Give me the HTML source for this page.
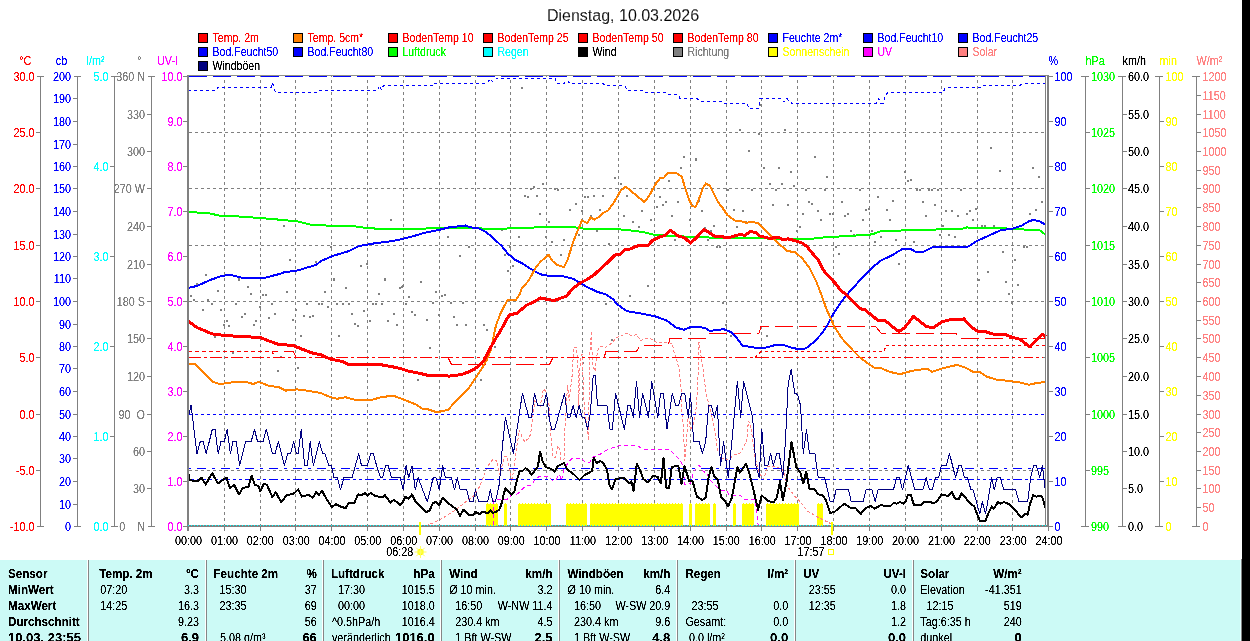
<!DOCTYPE html>
<html><head><meta charset="utf-8"><title>Wetter</title>
<style>html,body{margin:0;padding:0;background:#fff;}body{width:1250px;height:641px;overflow:hidden;font-family:"Liberation Sans",sans-serif;}svg{display:block;}text{font-family:"Liberation Sans",sans-serif;}</style></head><body>
<svg width="1250" height="641" viewBox="0 0 1250 641" font-family="Liberation Sans, sans-serif" shape-rendering="crispEdges">
<rect x="0" y="0" width="1250" height="641" fill="#fff" />
<rect x="1242" y="0" width="8" height="641" fill="#000" />
<rect x="0" y="560" width="1242" height="81" fill="#ccfaf6" />
<line x1="1240.5" y1="560" x2="1240.5" y2="641" stroke="#e4ffff" stroke-width="1" />
<line x1="1241.5" y1="559" x2="1241.5" y2="641" stroke="#868686" stroke-width="1" />
<rect x="198" y="33" width="10" height="10" fill="#000" />
<rect x="199" y="34" width="8" height="8" fill="#f00" />
<rect x="293" y="33" width="10" height="10" fill="#000" />
<rect x="294" y="34" width="8" height="8" fill="#ff8000" />
<rect x="388" y="33" width="10" height="10" fill="#000" />
<rect x="389" y="34" width="8" height="8" fill="#f00" />
<rect x="483" y="33" width="10" height="10" fill="#000" />
<rect x="484" y="34" width="8" height="8" fill="#f00" />
<rect x="578" y="33" width="10" height="10" fill="#000" />
<rect x="579" y="34" width="8" height="8" fill="#f00" />
<rect x="673" y="33" width="10" height="10" fill="#000" />
<rect x="674" y="34" width="8" height="8" fill="#f00" />
<rect x="768" y="33" width="10" height="10" fill="#000" />
<rect x="769" y="34" width="8" height="8" fill="#00f" />
<rect x="863" y="33" width="10" height="10" fill="#000" />
<rect x="864" y="34" width="8" height="8" fill="#00f" />
<rect x="958" y="33" width="10" height="10" fill="#000" />
<rect x="959" y="34" width="8" height="8" fill="#00f" />
<rect x="198" y="47" width="10" height="10" fill="#000" />
<rect x="199" y="48" width="8" height="8" fill="#00f" />
<rect x="293" y="47" width="10" height="10" fill="#000" />
<rect x="294" y="48" width="8" height="8" fill="#00f" />
<rect x="388" y="47" width="10" height="10" fill="#000" />
<rect x="389" y="48" width="8" height="8" fill="#0f0" />
<rect x="483" y="47" width="10" height="10" fill="#000" />
<rect x="484" y="48" width="8" height="8" fill="#0ff" />
<rect x="578" y="47" width="10" height="10" fill="#000" />
<rect x="579" y="48" width="8" height="8" fill="#000" />
<rect x="673" y="47" width="10" height="10" fill="#000" />
<rect x="674" y="48" width="8" height="8" fill="#808080" />
<rect x="768" y="47" width="10" height="10" fill="#000" />
<rect x="769" y="48" width="8" height="8" fill="#ff0" />
<rect x="863" y="47" width="10" height="10" fill="#000" />
<rect x="864" y="48" width="8" height="8" fill="#f0f" />
<rect x="958" y="47" width="10" height="10" fill="#000" />
<rect x="959" y="48" width="8" height="8" fill="#ff8080" />
<rect x="198" y="61" width="10" height="10" fill="#000" />
<rect x="199" y="62" width="8" height="8" fill="#000080" />
<line x1="224.5" y1="76" x2="224.5" y2="526" stroke="#808080" stroke-width="1" stroke-dasharray="3 3" stroke-dashoffset="2"/>
<line x1="260.5" y1="76" x2="260.5" y2="526" stroke="#808080" stroke-width="1" stroke-dasharray="3 3" stroke-dashoffset="2"/>
<line x1="295.5" y1="76" x2="295.5" y2="526" stroke="#808080" stroke-width="1" stroke-dasharray="3 3" stroke-dashoffset="2"/>
<line x1="331.5" y1="76" x2="331.5" y2="526" stroke="#808080" stroke-width="1" stroke-dasharray="3 3" stroke-dashoffset="2"/>
<line x1="367.5" y1="76" x2="367.5" y2="526" stroke="#808080" stroke-width="1" stroke-dasharray="3 3" stroke-dashoffset="2"/>
<line x1="403.5" y1="76" x2="403.5" y2="526" stroke="#808080" stroke-width="1" stroke-dasharray="3 3" stroke-dashoffset="2"/>
<line x1="439.5" y1="76" x2="439.5" y2="526" stroke="#808080" stroke-width="1" stroke-dasharray="3 3" stroke-dashoffset="2"/>
<line x1="475.5" y1="76" x2="475.5" y2="526" stroke="#808080" stroke-width="1" stroke-dasharray="3 3" stroke-dashoffset="2"/>
<line x1="510.5" y1="76" x2="510.5" y2="526" stroke="#808080" stroke-width="1" stroke-dasharray="3 3" stroke-dashoffset="2"/>
<line x1="546.5" y1="76" x2="546.5" y2="526" stroke="#808080" stroke-width="1" stroke-dasharray="3 3" stroke-dashoffset="2"/>
<line x1="582.5" y1="76" x2="582.5" y2="526" stroke="#808080" stroke-width="1" stroke-dasharray="3 3" stroke-dashoffset="2"/>
<line x1="618.5" y1="76" x2="618.5" y2="526" stroke="#808080" stroke-width="1" stroke-dasharray="3 3" stroke-dashoffset="2"/>
<line x1="654.5" y1="76" x2="654.5" y2="526" stroke="#808080" stroke-width="1" stroke-dasharray="3 3" stroke-dashoffset="2"/>
<line x1="690.5" y1="76" x2="690.5" y2="526" stroke="#808080" stroke-width="1" stroke-dasharray="3 3" stroke-dashoffset="2"/>
<line x1="726.5" y1="76" x2="726.5" y2="526" stroke="#808080" stroke-width="1" stroke-dasharray="3 3" stroke-dashoffset="2"/>
<line x1="761.5" y1="76" x2="761.5" y2="526" stroke="#808080" stroke-width="1" stroke-dasharray="3 3" stroke-dashoffset="2"/>
<line x1="797.5" y1="76" x2="797.5" y2="526" stroke="#808080" stroke-width="1" stroke-dasharray="3 3" stroke-dashoffset="2"/>
<line x1="833.5" y1="76" x2="833.5" y2="526" stroke="#808080" stroke-width="1" stroke-dasharray="3 3" stroke-dashoffset="2"/>
<line x1="869.5" y1="76" x2="869.5" y2="526" stroke="#808080" stroke-width="1" stroke-dasharray="3 3" stroke-dashoffset="2"/>
<line x1="905.5" y1="76" x2="905.5" y2="526" stroke="#808080" stroke-width="1" stroke-dasharray="3 3" stroke-dashoffset="2"/>
<line x1="941.5" y1="76" x2="941.5" y2="526" stroke="#808080" stroke-width="1" stroke-dasharray="3 3" stroke-dashoffset="2"/>
<line x1="977.5" y1="76" x2="977.5" y2="526" stroke="#808080" stroke-width="1" stroke-dasharray="3 3" stroke-dashoffset="2"/>
<line x1="1012.5" y1="76" x2="1012.5" y2="526" stroke="#808080" stroke-width="1" stroke-dasharray="3 3" stroke-dashoffset="2"/>
<line x1="189" y1="132.5" x2="1046" y2="132.5" stroke="#808080" stroke-width="1" stroke-dasharray="3 3"/>
<line x1="189" y1="188.5" x2="1046" y2="188.5" stroke="#808080" stroke-width="1" stroke-dasharray="3 3"/>
<line x1="189" y1="245.5" x2="1046" y2="245.5" stroke="#808080" stroke-width="1" stroke-dasharray="3 3"/>
<line x1="189" y1="301.5" x2="1046" y2="301.5" stroke="#808080" stroke-width="1" stroke-dasharray="3 3"/>
<line x1="1043" y1="357.5" x2="1046" y2="357.5" stroke="#808080" stroke-width="1" />
<line x1="189" y1="414.5" x2="1046" y2="414.5" stroke="#808080" stroke-width="1" stroke-dasharray="3 3"/>
<line x1="189" y1="470.5" x2="1046" y2="470.5" stroke="#808080" stroke-width="1" stroke-dasharray="3 3"/>
<path d="M521 87h2v2h-2zM739 129h2v2h-2zM758 133h2v2h-2zM784 129h2v2h-2zM748 150h2v2h-2zM683 156h2v2h-2zM695 158h2v2h-2zM814 156h2v2h-2zM759 104h2v2h-2zM990 147h2v2h-2zM283 225h2v2h-2zM390 219h2v2h-2zM289 259h2v2h-2zM315 261h2v2h-2zM360 265h2v2h-2zM366 263h2v2h-2zM205 274h2v2h-2zM330 246h2v2h-2zM238 278h2v2h-2zM333 278h2v2h-2zM384 278h2v2h-2zM238 279h2v2h-2zM196 283h2v2h-2zM247 286h2v2h-2zM217 290h2v2h-2zM250 293h2v2h-2zM262 294h2v2h-2zM265 294h2v2h-2zM286 291h2v2h-2zM190 295h2v2h-2zM193 299h2v2h-2zM207 299h2v2h-2zM211 303h2v2h-2zM235 303h2v2h-2zM271 303h2v2h-2zM202 309h2v2h-2zM220 309h2v2h-2zM259 306h2v2h-2zM295 309h2v2h-2zM244 313h2v2h-2zM241 316h2v2h-2zM274 313h2v2h-2zM268 317h2v2h-2zM292 319h2v2h-2zM226 320h2v2h-2zM255 320h2v2h-2zM223 324h2v2h-2zM228 325h2v2h-2zM253 324h2v2h-2zM214 336h2v2h-2zM232 352h2v2h-2zM280 356h2v2h-2zM277 370h2v2h-2zM297 367h2v2h-2zM306 303h2v2h-2zM318 303h2v2h-2zM321 303h2v2h-2zM327 306h2v2h-2zM324 291h2v2h-2zM333 279h2v2h-2zM345 287h2v2h-2zM336 303h2v2h-2zM342 303h2v2h-2zM348 303h2v2h-2zM351 313h2v2h-2zM363 310h2v2h-2zM303 315h2v2h-2zM309 316h2v2h-2zM312 315h2v2h-2zM300 335h2v2h-2zM338 335h2v2h-2zM354 323h2v2h-2zM357 325h2v2h-2zM369 320h2v2h-2zM372 303h2v2h-2zM375 303h2v2h-2zM381 303h2v2h-2zM378 293h2v2h-2zM384 279h2v2h-2zM399 287h2v2h-2zM402 285h2v2h-2zM393 313h2v2h-2zM387 320h2v2h-2zM396 324h2v2h-2zM447 236h2v2h-2zM468 246h2v2h-2zM459 255h2v2h-2zM420 281h2v2h-2zM401 286h2v2h-2zM408 296h2v2h-2zM435 291h2v2h-2zM441 295h2v2h-2zM444 294h2v2h-2zM432 302h2v2h-2zM450 302h2v2h-2zM462 302h2v2h-2zM501 229h2v2h-2zM518 236h2v2h-2zM509 246h2v2h-2zM504 254h2v2h-2zM512 265h2v2h-2zM507 270h2v2h-2zM524 195h2v2h-2zM527 196h2v2h-2zM530 188h2v2h-2zM533 186h2v2h-2zM536 195h2v2h-2zM542 183h2v2h-2zM539 213h2v2h-2zM548 221h2v2h-2zM545 236h2v2h-2zM551 241h2v2h-2zM560 254h2v2h-2zM563 239h2v2h-2zM554 188h2v2h-2zM557 189h2v2h-2zM569 209h2v2h-2zM575 203h2v2h-2zM581 210h2v2h-2zM578 234h2v2h-2zM584 196h2v2h-2zM587 196h2v2h-2zM593 195h2v2h-2zM602 195h2v2h-2zM599 209h2v2h-2zM590 215h2v2h-2zM596 230h2v2h-2zM608 243h2v2h-2zM614 177h2v2h-2zM405 303h2v2h-2zM411 311h2v2h-2zM414 314h2v2h-2zM438 314h2v2h-2zM426 319h2v2h-2zM453 316h2v2h-2zM456 324h2v2h-2zM465 324h2v2h-2zM483 324h2v2h-2zM486 329h2v2h-2zM429 347h2v2h-2zM494 346h2v2h-2zM417 379h2v2h-2zM480 379h2v2h-2zM489 414h2v2h-2zM605 303h2v2h-2zM611 339h2v2h-2zM582 362h2v2h-2zM680 167h2v2h-2zM695 159h2v2h-2zM668 180h2v2h-2zM620 183h2v2h-2zM626 195h2v2h-2zM659 196h2v2h-2zM665 201h2v2h-2zM662 204h2v2h-2zM656 206h2v2h-2zM641 210h2v2h-2zM623 215h2v2h-2zM632 221h2v2h-2zM650 219h2v2h-2zM638 226h2v2h-2zM671 215h2v2h-2zM677 201h2v2h-2zM698 200h2v2h-2zM691 204h2v2h-2zM701 210h2v2h-2zM689 219h2v2h-2zM704 227h2v2h-2zM710 230h2v2h-2zM713 225h2v2h-2zM674 239h2v2h-2zM707 239h2v2h-2zM716 246h2v2h-2zM719 246h2v2h-2zM727 189h2v2h-2zM733 209h2v2h-2zM742 210h2v2h-2zM736 226h2v2h-2zM745 221h2v2h-2zM751 189h2v2h-2zM763 167h2v2h-2zM778 167h2v2h-2zM790 171h2v2h-2zM769 183h2v2h-2zM781 183h2v2h-2zM793 185h2v2h-2zM775 189h2v2h-2zM772 204h2v2h-2zM787 204h2v2h-2zM796 230h2v2h-2zM799 226h2v2h-2zM802 213h2v2h-2zM805 189h2v2h-2zM808 201h2v2h-2zM811 203h2v2h-2zM817 210h2v2h-2zM820 219h2v2h-2zM824 189h2v2h-2zM826 176h2v2h-2zM829 213h2v2h-2zM832 213h2v2h-2zM647 285h2v2h-2zM629 295h2v2h-2zM722 302h2v2h-2zM730 335h2v2h-2zM766 335h2v2h-2zM725 324h2v2h-2zM904 171h2v2h-2zM907 180h2v2h-2zM910 179h2v2h-2zM999 170h2v2h-2zM1032 167h2v2h-2zM1038 176h2v2h-2zM1041 201h2v2h-2zM859 189h2v2h-2zM916 189h2v2h-2zM919 189h2v2h-2zM928 189h2v2h-2zM931 189h2v2h-2zM937 189h2v2h-2zM960 189h2v2h-2zM877 196h2v2h-2zM841 201h2v2h-2zM892 200h2v2h-2zM922 201h2v2h-2zM934 204h2v2h-2zM865 209h2v2h-2zM868 208h2v2h-2zM886 209h2v2h-2zM945 210h2v2h-2zM951 210h2v2h-2zM969 210h2v2h-2zM975 208h2v2h-2zM844 215h2v2h-2zM847 213h2v2h-2zM925 215h2v2h-2zM957 215h2v2h-2zM966 213h2v2h-2zM862 219h2v2h-2zM889 219h2v2h-2zM972 219h2v2h-2zM1029 213h2v2h-2zM1035 209h2v2h-2zM942 225h2v2h-2zM981 225h2v2h-2zM984 225h2v2h-2zM993 225h2v2h-2zM850 230h2v2h-2zM871 230h2v2h-2zM883 230h2v2h-2zM853 234h2v2h-2zM856 234h2v2h-2zM880 236h2v2h-2zM939 234h2v2h-2zM948 234h2v2h-2zM954 236h2v2h-2zM895 239h2v2h-2zM874 241h2v2h-2zM913 241h2v2h-2zM835 246h2v2h-2zM1023 246h2v2h-2zM1026 246h2v2h-2zM838 253h2v2h-2zM1002 251h2v2h-2zM1014 259h2v2h-2zM898 263h2v2h-2zM987 271h2v2h-2zM978 279h2v2h-2zM1005 281h2v2h-2zM1017 284h2v2h-2zM1008 293h2v2h-2zM1011 302h2v2h-2zM1008 293h2v2h-2z" fill="#808080"/>
<rect x="486" y="504" width="12" height="22" fill="#ff0"/>
<line x1="487" y1="503.5" x2="498" y2="503.5" stroke="#ff0" stroke-width="1" stroke-dasharray="1 2"/>
<rect x="504" y="504" width="3" height="22" fill="#ff0"/>
<line x1="505" y1="503.5" x2="507" y2="503.5" stroke="#ff0" stroke-width="1" stroke-dasharray="1 2"/>
<rect x="518" y="504" width="33" height="22" fill="#ff0"/>
<line x1="519" y1="503.5" x2="551" y2="503.5" stroke="#ff0" stroke-width="1" stroke-dasharray="1 2"/>
<rect x="566" y="504" width="21" height="22" fill="#ff0"/>
<line x1="567" y1="503.5" x2="587" y2="503.5" stroke="#ff0" stroke-width="1" stroke-dasharray="1 2"/>
<rect x="590" y="504" width="93" height="22" fill="#ff0"/>
<line x1="591" y1="503.5" x2="683" y2="503.5" stroke="#ff0" stroke-width="1" stroke-dasharray="1 2"/>
<rect x="689" y="504" width="3" height="22" fill="#ff0"/>
<line x1="690" y1="503.5" x2="692" y2="503.5" stroke="#ff0" stroke-width="1" stroke-dasharray="1 2"/>
<rect x="695" y="504" width="15" height="22" fill="#ff0"/>
<line x1="696" y1="503.5" x2="710" y2="503.5" stroke="#ff0" stroke-width="1" stroke-dasharray="1 2"/>
<rect x="713" y="504" width="3" height="22" fill="#ff0"/>
<line x1="714" y1="503.5" x2="716" y2="503.5" stroke="#ff0" stroke-width="1" stroke-dasharray="1 2"/>
<rect x="733" y="504" width="3" height="22" fill="#ff0"/>
<line x1="734" y1="503.5" x2="736" y2="503.5" stroke="#ff0" stroke-width="1" stroke-dasharray="1 2"/>
<rect x="742" y="504" width="12" height="22" fill="#ff0"/>
<line x1="743" y1="503.5" x2="754" y2="503.5" stroke="#ff0" stroke-width="1" stroke-dasharray="1 2"/>
<rect x="766" y="504" width="33" height="22" fill="#ff0"/>
<line x1="767" y1="503.5" x2="799" y2="503.5" stroke="#ff0" stroke-width="1" stroke-dasharray="1 2"/>
<rect x="817" y="504" width="6" height="22" fill="#ff0"/>
<line x1="818" y1="503.5" x2="823" y2="503.5" stroke="#ff0" stroke-width="1" stroke-dasharray="1 2"/>
<polyline points="426.0,526.0 440.4,519.5 454.6,510.8 465.5,502.0 474.3,495.5 480.0,486.0 483.4,476.6 487.7,466.3 492.9,459.5 496.3,460.3 498.0,468.0 499.7,474.9 502.3,464.6 504.9,456.0 507.4,457.7 510.0,471.5 511.7,481.7 513.4,471.5 516.9,445.7 519.5,430.3 522.0,437.2 524.6,441.4 528.0,438.9 530.6,434.6 532.3,420.0 534.9,400.6 540.0,407.5 543.5,388.6 546.0,392.0 549.0,405.0 551.2,440.6 552.9,456.0 555.5,457.7 558.0,445.7 559.8,449.2 560.6,459.5 564.0,459.5 564.9,430.0 567.5,385.2 569.2,400.6 572.6,371.5 573.5,347.4 576.1,347.4 577.8,357.7 578.6,405.8 580.3,357.7 582.1,354.3 584.6,416.0 587.2,426.0 588.4,440.6 589.0,400.0 589.8,354.3 591.5,331.1 592.3,362.9 594.9,371.5 597.5,350.9 600.1,346.6 605.2,347.4 610.4,344.0 617.2,337.2 620.1,336.3 627.0,332.9 632.2,336.3 636.4,334.6 640.7,340.6 645.0,338.9 649.3,338.0 656.2,342.3 668.2,342.3 672.5,344.0 674.2,352.6 676.7,359.5 679.3,369.7 681.0,388.6 681.9,414.3 682.7,416.8 684.9,460.5 688.2,416.8 690.5,430.0 693.9,422.9 696.5,405.8 698.2,371.5 699.0,342.3 700.8,354.3 702.5,364.6 704.2,380.0 706.8,397.2 709.3,405.8 712.8,420.0 716.2,440.0 717.5,450.2 722.0,458.0 728.0,460.0 733.9,454.9 740.9,452.6 746.7,440.9 748.4,421.0 750.3,423.3 752.6,438.5 754.9,457.3 759.6,473.7 763.6,479.1 767.9,466.0 776.7,467.1 783.2,470.4 787.6,486.8 794.2,495.5 800.7,502.0 807.3,510.8 816.0,516.3 824.7,520.6 833.5,525.0" fill="none" stroke="#ff8080" stroke-width="1" stroke-dasharray="3 2" stroke-linejoin="round" />
<polyline points="493.7,525.0 493.7,500.6 500.6,499.2 507.4,499.2 511.7,495.0 517.7,493.8 521.2,490.3 525.5,486.0 531.5,485.2 534.9,480.0 539.2,476.3 548.6,476.3 552.0,480.0 556.3,480.0 558.0,474.9 560.6,476.6 561.5,480.9 564.0,468.9 569.2,461.2 572.6,458.1 581.2,458.1 586.3,462.9 589.8,462.0 593.2,456.9 600.1,454.3 606.9,450.0 613.8,447.4 620.0,445.5 637.9,445.7 642.3,449.2 669.6,449.2 675.1,455.1 680.5,460.5 682.7,466.0 684.9,484.6 690.4,483.5 693.7,471.5 699.1,464.9 702.4,470.4 706.8,473.7 711.1,481.3 715.5,485.7 721.0,490.0 726.4,490.0 729.7,495.5 740.6,495.5 743.9,499.4 754.8,499.4 757.0,513.0 758.1,525.0" fill="none" stroke="#f0f" stroke-width="1" stroke-dasharray="4 3" stroke-linejoin="round" />
<line x1="188.5" y1="76.5" x2="1046" y2="76.5" stroke="#00f" stroke-width="1" stroke-dasharray="18 6"/>
<polyline points="188.3,90.5 217.0,90.5 218.0,87.5 271.0,87.5 272.5,83.0 274.0,87.5 275.5,92.5 318.0,92.5 320.0,90.5 378.0,90.5 379.5,85.5 381.5,90.0 383.5,85.5 432.0,85.5 433.0,83.5 487.0,83.5 490.0,79.0 493.0,82.0 496.0,79.0 500.0,78.0 555.0,78.0 557.0,83.5 564.0,83.5 567.0,80.0 570.0,83.5 603.0,83.5 605.0,85.5 625.0,85.5 627.0,90.5 643.0,90.5 645.0,92.5 666.0,92.5 668.0,94.5 678.0,94.5 680.0,98.5 697.0,98.5 700.0,101.5 722.0,101.5 724.0,103.5 747.0,103.5 749.0,108.5 758.5,108.5 760.0,98.5 781.0,98.5 784.0,102.0 787.0,98.5 789.0,101.0 792.0,103.5 876.0,103.5 878.5,98.5 881.0,103.5 883.0,103.5 885.0,96.0 888.0,92.5 943.0,92.5 945.0,88.5 947.0,87.5 982.0,87.5 984.0,85.5 1020.0,85.5 1022.0,83.5 1046.0,83.5" fill="none" stroke="#00f" stroke-width="1" stroke-dasharray="3 3" stroke-linejoin="round" />
<line x1="189" y1="414.5" x2="1046" y2="414.5" stroke="#00f" stroke-width="1" stroke-dasharray="3 3"/>
<line x1="189" y1="468.5" x2="1046" y2="468.5" stroke="#00f" stroke-width="1" stroke-dasharray="9 6 3 6" stroke-dashoffset="16"/>
<line x1="189" y1="479.5" x2="1046" y2="479.5" stroke="#00f" stroke-width="1" stroke-dasharray="9 3 3 3 3 3" stroke-dashoffset="16"/>
<line x1="189" y1="357.5" x2="760" y2="357.5" stroke="#f00" stroke-width="1" stroke-dasharray="12 3 3 3"/>
<line x1="760" y1="357.5" x2="1043" y2="357.5" stroke="#f00" stroke-width="1" stroke-dasharray="9 3 3 3 3 3"/>
<polyline points="188.3,351.5 271.0,351.5 273.5,354.0" fill="none" stroke="#f00" stroke-width="1" stroke-dasharray="4 3" stroke-linejoin="round" />
<polyline points="755.0,357.5 761.0,351.5 883.8,351.5 886.2,345.5 1045.0,345.5" fill="none" stroke="#f00" stroke-width="1" stroke-dasharray="3 3" stroke-linejoin="round" />
<polyline points="272.0,351.5 278.0,351.5" fill="none" stroke="#f00" stroke-width="1" stroke-linejoin="round" />
<polyline points="284.0,351.5 293.0,351.5 296.4,357.5" fill="none" stroke="#f00" stroke-width="1" stroke-linejoin="round" />
<polyline points="448.0,357.5 451.5,364.5 549.5,364.5 553.0,357.5" fill="none" stroke="#f00" stroke-width="1" stroke-dasharray="18 6" stroke-linejoin="round" />
<polyline points="604.0,357.5 606.0,351.5 636.4,351.5 639.9,345.5 666.5,345.5 668.5,343.5 670.0,338.5 705.9,338.5 708.5,333.5 758.9,333.5 761.0,326.5 875.6,326.5 881.5,333.5 956.4,333.5 958.7,338.5 1045.0,338.5" fill="none" stroke="#f00" stroke-width="1" stroke-dasharray="18 6" stroke-linejoin="round" />
<polyline points="188.3,417.4 191.0,405.3 197.0,453.6 200.3,441.5 203.0,441.5 206.2,453.6 212.3,429.4 215.0,429.4 218.2,453.6 221.0,441.5 224.3,441.5 227.2,429.4 230.4,453.6 233.0,441.5 236.3,441.5 239.6,465.6 245.7,441.5 251.2,441.5 254.5,429.4 257.5,441.5 263.2,441.5 266.3,429.4 272.4,453.6 275.2,453.6 278.3,441.5 284.4,465.6 287.7,453.6 290.5,453.6 293.6,441.5 296.4,453.6 298.2,453.6 301.2,429.4 304.7,465.6 307.4,465.6 310.2,441.5 313.3,465.6 319.4,441.5 322.6,453.6 324.8,453.6 328.8,465.6 331.4,465.6 334.0,477.7 337.3,477.7 340.6,489.8 343.8,477.7 352.1,477.7 358.7,453.6 361.5,465.6 367.4,465.6 370.7,453.6 373.3,453.6 376.6,465.6 380.5,477.7 382.7,477.7 385.6,465.6 388.2,465.6 391.5,477.7 400.2,477.7 403.3,489.8 406.1,465.6 408.7,477.7 412.0,465.6 415.3,489.8 418.1,477.7 427.3,501.9 433.2,477.7 436.0,477.7 439.3,489.8 442.6,465.6 445.4,477.7 451.3,477.7 454.6,489.8 457.2,477.7 460.1,489.8 466.6,489.8 469.9,501.9 473.2,501.9 475.4,489.8 478.7,501.9 487.7,501.9 490.3,489.8 492.9,501.9 495.4,501.9 499.4,483.8 502.3,447.5 505.4,417.4 513.4,453.6 522.4,393.2 528.9,417.4 531.5,417.4 534.5,393.2 537.5,405.3 543.5,405.3 546.6,393.2 549.1,417.4 551.7,429.4 554.6,429.4 564.6,393.2 567.5,417.4 570.0,417.4 573.1,405.3 576.1,417.4 579.1,405.3 582.1,417.4 584.6,417.4 587.5,429.4 590.3,413.7 593.2,375.7 595.3,375.7 597.5,405.3 606.9,405.3 610.0,429.4 612.4,429.4 615.5,393.2 624.4,429.4 627.9,405.3 630.2,405.3 633.3,417.4 636.5,381.2 639.6,417.4 642.6,393.2 648.5,417.4 651.7,381.2 657.8,417.4 660.6,393.2 663.4,393.2 667.0,429.4 672.3,393.2 675.8,405.3 678.7,405.3 681.7,393.2 684.7,393.2 688.3,417.4 690.4,393.2 693.7,441.5 699.1,441.5 702.4,453.6 705.7,441.5 708.6,405.3 711.4,405.3 714.5,417.4 717.3,405.3 720.5,465.6 723.6,441.5 728.2,477.7 731.9,441.5 737.4,381.2 740.7,417.4 743.6,381.2 749.5,405.3 752.6,417.4 755.9,465.6 759.2,477.7 761.8,429.4 764.7,465.6 767.9,465.6 770.6,453.6 773.4,465.6 776.7,453.6 779.3,453.6 782.8,477.7 785.4,441.5 788.2,383.6 791.2,369.1 794.7,393.2 797.5,394.4 800.5,405.3 803.3,453.6 806.5,429.4 809.5,453.6 814.9,453.6 818.2,477.7 824.7,477.7 830.2,501.9 833.3,501.9 836.1,489.8 848.6,489.8 851.2,501.9 863.2,501.9 866.0,489.8 872.0,489.8 875.2,501.9 878.0,489.8 893.4,489.8 896.6,477.7 899.5,477.7 902.5,489.8 908.2,465.6 914.8,489.8 922.9,489.8 926.1,477.7 929.4,489.8 932.2,489.8 935.5,477.7 938.6,477.7 941.4,465.6 946.2,465.6 949.5,453.6 955.6,477.7 958.9,465.6 961.5,465.6 964.4,477.7 967.6,477.7 970.9,489.8 973.1,489.8 979.7,513.9 982.3,501.9 985.6,513.9 991.7,477.7 994.3,489.8 997.1,477.7 1000.4,477.7 1003.7,489.8 1015.7,489.8 1019.0,501.9 1027.7,501.9 1030.6,477.7 1033.6,465.6 1036.5,465.6 1039.7,477.7 1042.4,465.6 1045.2,489.8" fill="none" stroke="#000080" stroke-width="1" stroke-linejoin="round" />
<polyline points="188.3,211.9 209.3,213.4 220.6,215.8 241.0,216.6 260.0,218.0 278.6,219.6 297.4,221.4 312.3,225.0 331.0,225.7 353.5,226.1 364.8,227.8 379.8,228.9 400.0,229.0 458.5,227.9 500.6,229.0 514.7,227.9 540.0,227.4 575.0,227.4 587.0,229.0 615.0,229.0 629.0,230.2 643.0,232.1 654.8,234.9 673.5,236.1 692.2,236.8 713.3,237.7 732.0,237.7 755.4,237.9 778.8,239.1 802.2,239.1 816.3,238.4 825.6,237.2 835.0,236.8 844.0,236.1 858.1,235.4 872.1,234.4 880.3,231.4 895.5,230.9 911.9,229.7 928.3,230.2 942.3,229.0 961.0,229.0 966.9,227.4 975.1,228.3 1003.2,228.3 1017.2,229.0 1026.6,229.7 1039.4,230.2 1045.3,234.4" fill="none" stroke="#0f0" stroke-width="2" stroke-linejoin="round" />
<polyline points="188.3,288.0 196.7,286.0 210.7,279.8 220.0,276.5 229.0,274.6 241.0,277.6 265.5,277.6 278.6,274.2 284.0,272.4 297.4,270.5 316.0,264.9 321.7,260.6 333.0,255.9 348.0,251.4 359.0,246.1 372.0,243.7 387.0,241.8 400.0,239.6 414.0,236.0 425.7,232.5 439.8,229.7 449.0,227.4 465.5,225.5 470.2,227.2 479.6,228.6 486.6,232.5 493.6,238.4 501.8,246.1 507.7,253.6 514.7,259.5 521.7,263.0 528.7,267.6 535.7,271.9 542.8,275.1 554.5,276.3 563.8,276.5 573.2,278.9 580.2,282.9 587.2,287.1 596.6,291.5 606.0,294.6 613.0,299.2 617.0,304.0 626.7,311.1 640.7,313.4 654.8,316.2 666.5,320.4 675.8,327.4 684.0,329.8 689.9,327.4 695.7,326.7 705.1,327.9 709.8,331.0 718.0,329.8 723.8,329.3 730.8,332.1 736.7,338.0 742.5,345.5 750.7,346.9 760.1,348.5 767.1,347.3 775.3,345.0 783.5,345.0 790.5,347.3 797.5,349.0 805.7,348.5 813.9,342.0 820.9,334.5 826.8,326.3 831.5,316.9 835.5,310.5 844.0,298.1 853.4,287.5 862.8,277.0 872.1,267.6 881.5,260.2 890.8,256.0 902.5,248.9 910.7,248.9 915.4,251.7 923.6,251.7 933.0,247.1 968.1,246.6 977.4,240.7 991.5,234.4 1000.8,230.2 1012.5,228.6 1021.9,225.5 1028.9,221.3 1033.6,219.9 1039.4,221.3 1045.3,224.4" fill="none" stroke="#00f" stroke-width="2" stroke-linejoin="round" />
<polyline points="188.3,363.7 194.4,363.7 203.7,373.0 213.0,382.0 220.0,384.0 231.8,382.4 248.0,382.4 253.0,384.0 258.8,382.0 269.3,386.0 278.6,387.0 285.7,390.6 297.4,389.4 306.7,390.6 320.8,393.0 330.0,397.0 337.0,398.8 345.4,397.2 353.6,399.5 370.0,400.4 381.7,397.0 393.4,395.8 400.0,398.1 409.4,401.9 416.4,404.7 423.4,409.4 428.1,409.4 435.1,411.7 439.8,411.7 448.0,409.8 453.8,403.5 460.8,396.5 467.9,389.5 474.9,378.9 481.9,368.4 486.6,360.2 491.3,348.5 493.6,336.8 496.0,325.1 500.6,313.4 504.1,306.4 507.7,299.7 515.8,299.9 519.4,294.7 521.7,288.7 528.7,280.5 535.7,267.6 540.4,261.8 548.6,254.8 552.1,260.6 556.8,264.8 563.8,267.2 567.3,260.6 573.2,241.9 577.9,230.2 582.0,220.4 587.2,223.2 590.7,217.3 594.2,219.7 600.1,216.2 603.6,212.7 608.3,210.3 614.1,202.1 617.5,196.0 620.9,190.4 625.5,186.9 629.0,189.3 636.0,195.1 644.3,202.1 648.9,196.3 656.0,183.4 660.6,177.6 664.1,177.6 667.7,172.9 675.8,172.9 681.7,176.4 685.2,188.1 688.7,198.6 692.2,206.3 695.7,206.8 699.2,198.6 702.8,188.1 705.8,183.4 709.8,185.7 713.3,192.8 718.0,202.1 722.7,208.0 727.3,215.0 734.4,220.4 741.4,221.3 746.1,222.7 753.1,222.0 758.2,223.2 764.8,230.2 771.8,237.2 778.8,243.8 787.0,250.8 795.2,252.4 802.2,258.3 809.2,267.6 816.3,281.7 820.9,293.4 826.8,310.0 830.0,316.9 834.7,327.4 841.7,338.0 851.1,348.5 860.4,357.9 867.4,363.0 874.5,367.7 881.5,368.4 889.7,371.9 900.2,374.2 910.7,371.2 918.9,369.6 928.3,369.1 931.8,371.9 942.3,368.4 951.7,366.1 957.5,364.9 965.7,367.7 973.9,372.4 979.8,371.9 986.8,376.6 996.2,379.6 1007.9,380.8 1019.6,382.4 1028.9,384.8 1037.1,382.9 1045.3,382.0" fill="none" stroke="#ff8000" stroke-width="2" stroke-linejoin="round" />
<polyline points="188.3,321.0 196.7,327.4 206.0,331.3 212.0,333.9 224.8,335.5 243.5,336.7 260.0,337.4 267.0,340.2 278.6,344.4 292.7,345.4 302.0,349.1 312.5,353.1 320.8,354.7 330.0,359.0 341.8,361.3 348.8,364.8 367.5,364.4 379.0,364.4 391.0,366.5 400.0,368.4 409.4,371.4 418.7,373.1 428.1,375.4 439.8,375.4 449.1,376.1 460.8,374.7 470.2,371.4 477.2,367.2 484.2,360.2 490.1,348.5 496.0,338.0 501.8,328.6 506.5,319.3 510.0,314.6 517.0,313.4 526.4,305.2 533.4,302.2 540.4,297.9 547.4,299.4 554.5,300.5 561.5,297.8 566.2,296.3 573.2,288.2 580.2,282.9 587.2,279.4 594.2,274.7 601.3,268.1 608.3,261.8 615.3,254.8 619.7,254.8 625.5,249.4 631.4,248.9 636.0,246.1 647.8,245.4 652.4,240.7 659.5,236.8 665.3,235.4 670.0,230.2 673.5,232.5 679.4,236.8 684.0,237.2 690.4,243.1 695.7,238.4 704.0,229.5 708.6,232.1 714.5,236.1 720.3,236.1 726.2,237.7 732.0,236.8 740.2,234.4 744.9,235.4 750.7,231.4 755.4,232.5 760.1,236.1 769.5,238.4 778.8,237.2 782.3,239.6 788.2,238.9 795.2,240.7 802.2,243.1 806.9,246.6 812.7,253.6 818.6,260.6 823.3,270.0 828.0,275.8 835.0,282.9 840.5,290.0 848.7,296.9 851.1,299.4 860.4,308.7 865.1,309.9 872.1,315.7 878.0,320.4 885.0,320.4 892.0,326.3 899.0,331.7 904.9,327.4 913.5,316.2 920.1,321.6 926.0,326.3 933.0,327.9 942.3,321.6 951.7,319.3 958.7,320.0 963.9,318.8 970.4,326.3 977.4,331.0 985.6,331.7 991.5,333.8 998.5,334.9 1005.5,334.5 1012.5,337.5 1019.6,339.1 1030.1,346.9 1037.1,339.1 1042.5,334.5 1045.8,336.8" fill="none" stroke="#f00" stroke-width="3" stroke-linejoin="round" />
<polyline points="188.3,473.7 189.8,479.8 194.8,481.3 198.0,481.3 201.4,477.6 205.8,484.6 209.0,478.5 212.3,473.2 217.8,483.5 222.0,480.6 226.5,477.6 229.8,487.9 234.2,485.0 239.0,494.4 242.9,487.9 248.4,486.8 251.6,475.8 254.9,485.0 258.2,485.7 260.4,491.1 263.7,484.1 266.9,484.6 272.4,497.3 275.7,492.2 281.1,502.0 286.6,495.5 294.2,493.3 298.2,489.4 301.9,496.6 308.4,495.0 312.8,497.7 316.1,492.2 318.7,495.0 322.2,491.1 327.0,499.9 331.8,507.0 335.8,504.2 340.1,506.4 345.6,508.2 348.9,502.5 354.3,503.1 358.0,494.4 362.0,495.0 365.2,492.9 367.4,495.5 370.7,492.9 375.1,496.0 382.7,497.2 384.9,495.0 390.4,502.5 393.7,499.9 398.0,503.1 400.0,505.3 402.2,503.1 405.5,496.6 408.7,498.8 412.0,494.4 415.3,501.0 419.7,505.3 426.2,511.9 429.5,510.8 432.8,503.1 436.0,502.0 439.3,505.3 442.6,497.7 447.0,502.0 452.4,506.4 456.8,509.7 460.1,515.8 463.4,509.7 468.8,515.2 473.2,515.2 475.4,511.9 479.7,514.1 482.6,511.6 485.8,512.6 488.3,513.2 490.2,510.4 492.8,512.9 496.0,512.0 499.2,509.7 501.1,505.2 502.4,500.1 503.8,494.0 505.4,488.3 508.3,491.2 511.7,494.6 514.3,492.0 516.9,480.0 519.5,471.5 522.9,470.6 525.5,468.0 528.9,470.6 531.5,474.9 534.9,470.6 538.0,466.3 540.0,451.7 542.6,461.2 546.0,467.2 551.2,468.9 554.6,471.5 558.0,466.0 564.0,462.9 567.5,469.7 572.6,473.2 579.5,480.0 584.6,474.9 589.8,472.3 592.3,470.6 593.6,457.7 596.6,462.9 600.1,461.2 602.6,462.0 606.9,469.7 609.5,485.2 612.1,489.5 615.5,479.2 620.0,478.3 623.7,478.0 629.2,483.5 631.4,481.3 633.6,491.1 636.8,463.8 640.1,470.4 643.4,479.1 647.8,482.4 653.2,475.8 657.6,476.9 660.9,483.5 663.5,458.4 666.3,487.9 669.2,487.9 671.8,466.7 678.4,466.0 681.6,484.1 684.5,466.0 689.3,481.3 692.6,481.3 696.9,496.6 702.4,499.9 705.7,497.7 708.9,475.8 711.6,467.1 714.4,476.9 717.7,479.1 721.0,496.6 724.2,499.9 728.2,506.4 731.9,497.7 737.4,467.1 740.0,472.6 746.1,463.8 749.4,473.7 753.7,491.1 758.1,509.7 761.8,495.5 767.9,501.0 773.4,502.5 776.7,497.7 780.0,481.3 782.8,499.9 786.5,482.4 791.5,442.0 796.3,467.1 800.3,472.6 803.3,483.5 806.2,471.5 809.5,489.0 814.3,488.5 818.2,494.4 822.6,495.5 825.8,499.9 830.2,513.0 834.4,511.9 839.8,507.5 844.2,503.6 849.7,507.5 856.2,508.6 860.6,514.1 865.0,508.6 870.4,506.0 874.8,508.6 881.3,504.9 885.7,506.4 890.1,506.4 893.4,503.1 896.6,503.6 899.9,502.1 903.2,503.6 905.4,502.1 907.6,495.5 910.8,495.1 914.1,505.3 917.4,504.7 920.7,505.3 924.0,502.1 934.9,502.7 938.1,499.9 941.4,494.4 948.0,495.9 951.9,492.2 955.6,499.4 958.9,498.8 961.5,493.3 965.5,497.7 969.8,503.2 974.2,506.4 979.7,520.6 985.6,520.6 988.4,513.0 991.7,506.4 993.9,508.6 997.8,502.1 1000.4,503.6 1003.7,502.1 1009.2,504.2 1015.7,510.8 1021.2,517.4 1024.5,514.1 1027.7,514.7 1029.9,504.2 1033.2,495.1 1036.5,496.6 1040.8,495.9 1043.0,498.8 1045.2,507.5" fill="none" stroke="#000" stroke-width="2" stroke-linejoin="round" />
<line x1="189" y1="75.5" x2="1048" y2="75.5" stroke="#909088" stroke-width="1" />
<rect x="187" y="75" width="2" height="456" fill="#808080" />
<rect x="187" y="525" width="862" height="2" fill="#808080" />
<rect x="486" y="525" width="12" height="1" fill="#ff0" />
<rect x="504" y="525" width="3" height="1" fill="#ff0" />
<rect x="518" y="525" width="33" height="1" fill="#ff0" />
<rect x="566" y="525" width="21" height="1" fill="#ff0" />
<rect x="590" y="525" width="93" height="1" fill="#ff0" />
<rect x="689" y="525" width="3" height="1" fill="#ff0" />
<rect x="695" y="525" width="15" height="1" fill="#ff0" />
<rect x="713" y="525" width="3" height="1" fill="#ff0" />
<rect x="733" y="525" width="3" height="1" fill="#ff0" />
<rect x="742" y="525" width="12" height="1" fill="#ff0" />
<rect x="766" y="525" width="33" height="1" fill="#ff0" />
<rect x="817" y="525" width="6" height="1" fill="#ff0" />
<line x1="1045.5" y1="75" x2="1045.5" y2="527" stroke="#808080" stroke-width="1" />
<rect x="1047" y="75" width="2" height="452" fill="#808080" />
<line x1="188.5" y1="527" x2="188.5" y2="531" stroke="#808080" stroke-width="1" />
<line x1="224.5" y1="527" x2="224.5" y2="531" stroke="#808080" stroke-width="1" />
<line x1="260.5" y1="527" x2="260.5" y2="531" stroke="#808080" stroke-width="1" />
<line x1="295.5" y1="527" x2="295.5" y2="531" stroke="#808080" stroke-width="1" />
<line x1="331.5" y1="527" x2="331.5" y2="531" stroke="#808080" stroke-width="1" />
<line x1="367.5" y1="527" x2="367.5" y2="531" stroke="#808080" stroke-width="1" />
<line x1="403.5" y1="527" x2="403.5" y2="531" stroke="#808080" stroke-width="1" />
<line x1="439.5" y1="527" x2="439.5" y2="531" stroke="#808080" stroke-width="1" />
<line x1="475.5" y1="527" x2="475.5" y2="531" stroke="#808080" stroke-width="1" />
<line x1="510.5" y1="527" x2="510.5" y2="531" stroke="#808080" stroke-width="1" />
<line x1="546.5" y1="527" x2="546.5" y2="531" stroke="#808080" stroke-width="1" />
<line x1="582.5" y1="527" x2="582.5" y2="531" stroke="#808080" stroke-width="1" />
<line x1="618.5" y1="527" x2="618.5" y2="531" stroke="#808080" stroke-width="1" />
<line x1="654.5" y1="527" x2="654.5" y2="531" stroke="#808080" stroke-width="1" />
<line x1="690.5" y1="527" x2="690.5" y2="531" stroke="#808080" stroke-width="1" />
<line x1="726.5" y1="527" x2="726.5" y2="531" stroke="#808080" stroke-width="1" />
<line x1="761.5" y1="527" x2="761.5" y2="531" stroke="#808080" stroke-width="1" />
<line x1="797.5" y1="527" x2="797.5" y2="531" stroke="#808080" stroke-width="1" />
<line x1="833.5" y1="527" x2="833.5" y2="531" stroke="#808080" stroke-width="1" />
<line x1="869.5" y1="527" x2="869.5" y2="531" stroke="#808080" stroke-width="1" />
<line x1="905.5" y1="527" x2="905.5" y2="531" stroke="#808080" stroke-width="1" />
<line x1="941.5" y1="527" x2="941.5" y2="531" stroke="#808080" stroke-width="1" />
<line x1="977.5" y1="527" x2="977.5" y2="531" stroke="#808080" stroke-width="1" />
<line x1="1012.5" y1="527" x2="1012.5" y2="531" stroke="#808080" stroke-width="1" />
<line x1="1048.5" y1="527" x2="1048.5" y2="531" stroke="#808080" stroke-width="1" />
<line x1="188" y1="525.5" x2="1046" y2="525.5" stroke="#0ff" stroke-width="1" stroke-dasharray="1 1.9875"/>
<line x1="40.5" y1="76" x2="40.5" y2="527" stroke="#808080" stroke-width="1" />
<line x1="37" y1="76.5" x2="44" y2="76.5" stroke="#808080" stroke-width="1" />
<line x1="36" y1="132.5" x2="40" y2="132.5" stroke="#808080" stroke-width="1" />
<line x1="36" y1="188.5" x2="40" y2="188.5" stroke="#808080" stroke-width="1" />
<line x1="36" y1="245.5" x2="40" y2="245.5" stroke="#808080" stroke-width="1" />
<line x1="36" y1="301.5" x2="40" y2="301.5" stroke="#808080" stroke-width="1" />
<line x1="36" y1="357.5" x2="40" y2="357.5" stroke="#808080" stroke-width="1" />
<line x1="36" y1="414.5" x2="40" y2="414.5" stroke="#808080" stroke-width="1" />
<line x1="36" y1="470.5" x2="40" y2="470.5" stroke="#808080" stroke-width="1" />
<line x1="37" y1="526.5" x2="44" y2="526.5" stroke="#808080" stroke-width="1" />
<line x1="77.5" y1="76" x2="77.5" y2="527" stroke="#808080" stroke-width="1" />
<line x1="74" y1="76.5" x2="81" y2="76.5" stroke="#808080" stroke-width="1" />
<line x1="73" y1="98.5" x2="77" y2="98.5" stroke="#808080" stroke-width="1" />
<line x1="73" y1="121.5" x2="77" y2="121.5" stroke="#808080" stroke-width="1" />
<line x1="73" y1="144.5" x2="77" y2="144.5" stroke="#808080" stroke-width="1" />
<line x1="73" y1="166.5" x2="77" y2="166.5" stroke="#808080" stroke-width="1" />
<line x1="73" y1="188.5" x2="77" y2="188.5" stroke="#808080" stroke-width="1" />
<line x1="73" y1="211.5" x2="77" y2="211.5" stroke="#808080" stroke-width="1" />
<line x1="73" y1="234.5" x2="77" y2="234.5" stroke="#808080" stroke-width="1" />
<line x1="73" y1="256.5" x2="77" y2="256.5" stroke="#808080" stroke-width="1" />
<line x1="73" y1="278.5" x2="77" y2="278.5" stroke="#808080" stroke-width="1" />
<line x1="73" y1="301.5" x2="77" y2="301.5" stroke="#808080" stroke-width="1" />
<line x1="73" y1="324.5" x2="77" y2="324.5" stroke="#808080" stroke-width="1" />
<line x1="73" y1="346.5" x2="77" y2="346.5" stroke="#808080" stroke-width="1" />
<line x1="73" y1="368.5" x2="77" y2="368.5" stroke="#808080" stroke-width="1" />
<line x1="73" y1="391.5" x2="77" y2="391.5" stroke="#808080" stroke-width="1" />
<line x1="73" y1="414.5" x2="77" y2="414.5" stroke="#808080" stroke-width="1" />
<line x1="73" y1="436.5" x2="77" y2="436.5" stroke="#808080" stroke-width="1" />
<line x1="73" y1="458.5" x2="77" y2="458.5" stroke="#808080" stroke-width="1" />
<line x1="73" y1="481.5" x2="77" y2="481.5" stroke="#808080" stroke-width="1" />
<line x1="73" y1="504.5" x2="77" y2="504.5" stroke="#808080" stroke-width="1" />
<line x1="74" y1="526.5" x2="81" y2="526.5" stroke="#808080" stroke-width="1" />
<line x1="114.5" y1="76" x2="114.5" y2="527" stroke="#808080" stroke-width="1" />
<line x1="111" y1="76.5" x2="118" y2="76.5" stroke="#808080" stroke-width="1" />
<line x1="110" y1="166.5" x2="114" y2="166.5" stroke="#808080" stroke-width="1" />
<line x1="110" y1="256.5" x2="114" y2="256.5" stroke="#808080" stroke-width="1" />
<line x1="110" y1="346.5" x2="114" y2="346.5" stroke="#808080" stroke-width="1" />
<line x1="110" y1="436.5" x2="114" y2="436.5" stroke="#808080" stroke-width="1" />
<line x1="111" y1="526.5" x2="118" y2="526.5" stroke="#808080" stroke-width="1" />
<line x1="151.5" y1="76" x2="151.5" y2="527" stroke="#808080" stroke-width="1" />
<line x1="148" y1="76.5" x2="155" y2="76.5" stroke="#808080" stroke-width="1" />
<line x1="147" y1="114.5" x2="151" y2="114.5" stroke="#808080" stroke-width="1" />
<line x1="147" y1="151.5" x2="151" y2="151.5" stroke="#808080" stroke-width="1" />
<line x1="147" y1="188.5" x2="151" y2="188.5" stroke="#808080" stroke-width="1" />
<line x1="147" y1="226.5" x2="151" y2="226.5" stroke="#808080" stroke-width="1" />
<line x1="147" y1="264.5" x2="151" y2="264.5" stroke="#808080" stroke-width="1" />
<line x1="147" y1="301.5" x2="151" y2="301.5" stroke="#808080" stroke-width="1" />
<line x1="147" y1="338.5" x2="151" y2="338.5" stroke="#808080" stroke-width="1" />
<line x1="147" y1="376.5" x2="151" y2="376.5" stroke="#808080" stroke-width="1" />
<line x1="147" y1="414.5" x2="151" y2="414.5" stroke="#808080" stroke-width="1" />
<line x1="147" y1="451.5" x2="151" y2="451.5" stroke="#808080" stroke-width="1" />
<line x1="147" y1="488.5" x2="151" y2="488.5" stroke="#808080" stroke-width="1" />
<line x1="148" y1="526.5" x2="155" y2="526.5" stroke="#808080" stroke-width="1" />
<line x1="183" y1="76.5" x2="187" y2="76.5" stroke="#808080" stroke-width="1" />
<line x1="183" y1="121.5" x2="187" y2="121.5" stroke="#808080" stroke-width="1" />
<line x1="183" y1="166.5" x2="187" y2="166.5" stroke="#808080" stroke-width="1" />
<line x1="183" y1="211.5" x2="187" y2="211.5" stroke="#808080" stroke-width="1" />
<line x1="183" y1="256.5" x2="187" y2="256.5" stroke="#808080" stroke-width="1" />
<line x1="183" y1="301.5" x2="187" y2="301.5" stroke="#808080" stroke-width="1" />
<line x1="183" y1="346.5" x2="187" y2="346.5" stroke="#808080" stroke-width="1" />
<line x1="183" y1="391.5" x2="187" y2="391.5" stroke="#808080" stroke-width="1" />
<line x1="183" y1="436.5" x2="187" y2="436.5" stroke="#808080" stroke-width="1" />
<line x1="183" y1="481.5" x2="187" y2="481.5" stroke="#808080" stroke-width="1" />
<line x1="183" y1="526.5" x2="187" y2="526.5" stroke="#808080" stroke-width="1" />
<line x1="1049" y1="76.5" x2="1053" y2="76.5" stroke="#808080" stroke-width="1" />
<line x1="1049" y1="121.5" x2="1053" y2="121.5" stroke="#808080" stroke-width="1" />
<line x1="1049" y1="166.5" x2="1053" y2="166.5" stroke="#808080" stroke-width="1" />
<line x1="1049" y1="211.5" x2="1053" y2="211.5" stroke="#808080" stroke-width="1" />
<line x1="1049" y1="256.5" x2="1053" y2="256.5" stroke="#808080" stroke-width="1" />
<line x1="1049" y1="301.5" x2="1053" y2="301.5" stroke="#808080" stroke-width="1" />
<line x1="1049" y1="346.5" x2="1053" y2="346.5" stroke="#808080" stroke-width="1" />
<line x1="1049" y1="391.5" x2="1053" y2="391.5" stroke="#808080" stroke-width="1" />
<line x1="1049" y1="436.5" x2="1053" y2="436.5" stroke="#808080" stroke-width="1" />
<line x1="1049" y1="481.5" x2="1053" y2="481.5" stroke="#808080" stroke-width="1" />
<line x1="1049" y1="526.5" x2="1053" y2="526.5" stroke="#808080" stroke-width="1" />
<line x1="1085.5" y1="76" x2="1085.5" y2="527" stroke="#808080" stroke-width="1" />
<line x1="1081" y1="76.5" x2="1089" y2="76.5" stroke="#808080" stroke-width="1" />
<line x1="1086" y1="132.5" x2="1090" y2="132.5" stroke="#808080" stroke-width="1" />
<line x1="1086" y1="188.5" x2="1090" y2="188.5" stroke="#808080" stroke-width="1" />
<line x1="1086" y1="245.5" x2="1090" y2="245.5" stroke="#808080" stroke-width="1" />
<line x1="1086" y1="301.5" x2="1090" y2="301.5" stroke="#808080" stroke-width="1" />
<line x1="1086" y1="357.5" x2="1090" y2="357.5" stroke="#808080" stroke-width="1" />
<line x1="1086" y1="414.5" x2="1090" y2="414.5" stroke="#808080" stroke-width="1" />
<line x1="1086" y1="470.5" x2="1090" y2="470.5" stroke="#808080" stroke-width="1" />
<line x1="1081" y1="526.5" x2="1089" y2="526.5" stroke="#808080" stroke-width="1" />
<line x1="1122.5" y1="76" x2="1122.5" y2="527" stroke="#808080" stroke-width="1" />
<line x1="1118" y1="76.5" x2="1126" y2="76.5" stroke="#808080" stroke-width="1" />
<line x1="1123" y1="114.5" x2="1127" y2="114.5" stroke="#808080" stroke-width="1" />
<line x1="1123" y1="151.5" x2="1127" y2="151.5" stroke="#808080" stroke-width="1" />
<line x1="1123" y1="188.5" x2="1127" y2="188.5" stroke="#808080" stroke-width="1" />
<line x1="1123" y1="226.5" x2="1127" y2="226.5" stroke="#808080" stroke-width="1" />
<line x1="1123" y1="264.5" x2="1127" y2="264.5" stroke="#808080" stroke-width="1" />
<line x1="1123" y1="301.5" x2="1127" y2="301.5" stroke="#808080" stroke-width="1" />
<line x1="1123" y1="338.5" x2="1127" y2="338.5" stroke="#808080" stroke-width="1" />
<line x1="1123" y1="376.5" x2="1127" y2="376.5" stroke="#808080" stroke-width="1" />
<line x1="1123" y1="414.5" x2="1127" y2="414.5" stroke="#808080" stroke-width="1" />
<line x1="1123" y1="451.5" x2="1127" y2="451.5" stroke="#808080" stroke-width="1" />
<line x1="1123" y1="488.5" x2="1127" y2="488.5" stroke="#808080" stroke-width="1" />
<line x1="1118" y1="526.5" x2="1126" y2="526.5" stroke="#808080" stroke-width="1" />
<line x1="1159.5" y1="76" x2="1159.5" y2="527" stroke="#808080" stroke-width="1" />
<line x1="1155" y1="76.5" x2="1163" y2="76.5" stroke="#808080" stroke-width="1" />
<line x1="1160" y1="121.5" x2="1164" y2="121.5" stroke="#808080" stroke-width="1" />
<line x1="1160" y1="166.5" x2="1164" y2="166.5" stroke="#808080" stroke-width="1" />
<line x1="1160" y1="211.5" x2="1164" y2="211.5" stroke="#808080" stroke-width="1" />
<line x1="1160" y1="256.5" x2="1164" y2="256.5" stroke="#808080" stroke-width="1" />
<line x1="1160" y1="301.5" x2="1164" y2="301.5" stroke="#808080" stroke-width="1" />
<line x1="1160" y1="346.5" x2="1164" y2="346.5" stroke="#808080" stroke-width="1" />
<line x1="1160" y1="391.5" x2="1164" y2="391.5" stroke="#808080" stroke-width="1" />
<line x1="1160" y1="436.5" x2="1164" y2="436.5" stroke="#808080" stroke-width="1" />
<line x1="1160" y1="481.5" x2="1164" y2="481.5" stroke="#808080" stroke-width="1" />
<line x1="1155" y1="526.5" x2="1163" y2="526.5" stroke="#808080" stroke-width="1" />
<line x1="1196.5" y1="76" x2="1196.5" y2="527" stroke="#808080" stroke-width="1" />
<line x1="1192" y1="76.5" x2="1200" y2="76.5" stroke="#808080" stroke-width="1" />
<line x1="1197" y1="95.5" x2="1201" y2="95.5" stroke="#808080" stroke-width="1" />
<line x1="1197" y1="114.5" x2="1201" y2="114.5" stroke="#808080" stroke-width="1" />
<line x1="1197" y1="132.5" x2="1201" y2="132.5" stroke="#808080" stroke-width="1" />
<line x1="1197" y1="151.5" x2="1201" y2="151.5" stroke="#808080" stroke-width="1" />
<line x1="1197" y1="170.5" x2="1201" y2="170.5" stroke="#808080" stroke-width="1" />
<line x1="1197" y1="188.5" x2="1201" y2="188.5" stroke="#808080" stroke-width="1" />
<line x1="1197" y1="207.5" x2="1201" y2="207.5" stroke="#808080" stroke-width="1" />
<line x1="1197" y1="226.5" x2="1201" y2="226.5" stroke="#808080" stroke-width="1" />
<line x1="1197" y1="245.5" x2="1201" y2="245.5" stroke="#808080" stroke-width="1" />
<line x1="1197" y1="264.5" x2="1201" y2="264.5" stroke="#808080" stroke-width="1" />
<line x1="1197" y1="282.5" x2="1201" y2="282.5" stroke="#808080" stroke-width="1" />
<line x1="1197" y1="301.5" x2="1201" y2="301.5" stroke="#808080" stroke-width="1" />
<line x1="1197" y1="320.5" x2="1201" y2="320.5" stroke="#808080" stroke-width="1" />
<line x1="1197" y1="338.5" x2="1201" y2="338.5" stroke="#808080" stroke-width="1" />
<line x1="1197" y1="357.5" x2="1201" y2="357.5" stroke="#808080" stroke-width="1" />
<line x1="1197" y1="376.5" x2="1201" y2="376.5" stroke="#808080" stroke-width="1" />
<line x1="1197" y1="395.5" x2="1201" y2="395.5" stroke="#808080" stroke-width="1" />
<line x1="1197" y1="414.5" x2="1201" y2="414.5" stroke="#808080" stroke-width="1" />
<line x1="1197" y1="432.5" x2="1201" y2="432.5" stroke="#808080" stroke-width="1" />
<line x1="1197" y1="451.5" x2="1201" y2="451.5" stroke="#808080" stroke-width="1" />
<line x1="1197" y1="470.5" x2="1201" y2="470.5" stroke="#808080" stroke-width="1" />
<line x1="1197" y1="488.5" x2="1201" y2="488.5" stroke="#808080" stroke-width="1" />
<line x1="1197" y1="507.5" x2="1201" y2="507.5" stroke="#808080" stroke-width="1" />
<line x1="1192" y1="526.5" x2="1200" y2="526.5" stroke="#808080" stroke-width="1" />
<rect x="419" y="522" width="2" height="13" fill="#ff0" />
<rect x="831" y="522" width="2" height="13" fill="#ff0" />
<circle cx="420.5" cy="552" r="3.2" fill="#ff0" shape-rendering="auto"/>
<g stroke="#ffff60" stroke-width="1" shape-rendering="auto"><path d="M420.5 546v12M414.5 552h12M416.3 547.8l8.4 8.4M424.7 547.8l-8.4 8.4"/></g>
<rect x="828.5" y="549.5" width="5" height="5" fill="none" stroke="#ff0" stroke-width="1"/>
<rect x="87" y="560" width="1" height="81" fill="#fff"/><rect x="88" y="560" width="1" height="81" fill="#868686"/>
<rect x="205" y="560" width="1" height="81" fill="#fff"/><rect x="206" y="560" width="1" height="81" fill="#868686"/>
<rect x="322" y="560" width="1" height="81" fill="#fff"/><rect x="323" y="560" width="1" height="81" fill="#868686"/>
<rect x="440" y="560" width="1" height="81" fill="#fff"/><rect x="441" y="560" width="1" height="81" fill="#868686"/>
<rect x="558" y="560" width="1" height="81" fill="#fff"/><rect x="559" y="560" width="1" height="81" fill="#868686"/>
<rect x="676" y="560" width="1" height="81" fill="#fff"/><rect x="677" y="560" width="1" height="81" fill="#868686"/>
<rect x="794" y="560" width="1" height="81" fill="#fff"/><rect x="795" y="560" width="1" height="81" fill="#868686"/>
<rect x="912" y="560" width="1" height="81" fill="#fff"/><rect x="913" y="560" width="1" height="81" fill="#868686"/>
<defs><filter id="tf" x="0" y="0" width="1250" height="641" filterUnits="userSpaceOnUse" color-interpolation-filters="sRGB"><feComponentTransfer><feFuncA type="linear" slope="3" intercept="-0.7"/></feComponentTransfer></filter></defs><g filter="url(#tf)"><text x="623" y="21" fill="#000" text-anchor="middle" font-size="16" stroke="#fff" stroke-width="0.25">Dienstag, 10.03.2026</text>
<text transform="translate(212.5 42.3) scale(0.88 1)" fill="#f00" text-anchor="start" font-size="12">Temp. 2m</text>
<text transform="translate(307.5 42.3) scale(0.88 1)" fill="#f00" text-anchor="start" font-size="12">Temp. 5cm*</text>
<text transform="translate(402.5 42.3) scale(0.88 1)" fill="#f00" text-anchor="start" font-size="12">BodenTemp 10</text>
<text transform="translate(497.5 42.3) scale(0.88 1)" fill="#f00" text-anchor="start" font-size="12">BodenTemp 25</text>
<text transform="translate(592.5 42.3) scale(0.88 1)" fill="#f00" text-anchor="start" font-size="12">BodenTemp 50</text>
<text transform="translate(687.5 42.3) scale(0.88 1)" fill="#f00" text-anchor="start" font-size="12">BodenTemp 80</text>
<text transform="translate(782.5 42.3) scale(0.88 1)" fill="#00f" text-anchor="start" font-size="12">Feuchte 2m*</text>
<text transform="translate(877.5 42.3) scale(0.88 1)" fill="#00f" text-anchor="start" font-size="12">Bod.Feucht10</text>
<text transform="translate(972.5 42.3) scale(0.88 1)" fill="#00f" text-anchor="start" font-size="12">Bod.Feucht25</text>
<text transform="translate(212.5 56.3) scale(0.88 1)" fill="#00f" text-anchor="start" font-size="12">Bod.Feucht50</text>
<text transform="translate(307.5 56.3) scale(0.88 1)" fill="#00f" text-anchor="start" font-size="12">Bod.Feucht80</text>
<text transform="translate(402.5 56.3) scale(0.88 1)" fill="#0f0" text-anchor="start" font-size="12">Luftdruck</text>
<text transform="translate(497.5 56.3) scale(0.88 1)" fill="#0ff" text-anchor="start" font-size="12">Regen</text>
<text transform="translate(592.5 56.3) scale(0.88 1)" fill="#000" text-anchor="start" font-size="12">Wind</text>
<text transform="translate(687.5 56.3) scale(0.88 1)" fill="#808080" text-anchor="start" font-size="12">Richtung</text>
<text transform="translate(782.5 56.3) scale(0.88 1)" fill="#ff0" text-anchor="start" font-size="12">Sonnenschein</text>
<text transform="translate(877.5 56.3) scale(0.88 1)" fill="#f0f" text-anchor="start" font-size="12">UV</text>
<text transform="translate(972.5 56.3) scale(0.88 1)" fill="#ff8080" text-anchor="start" font-size="12">Solar</text>
<text transform="translate(212.5 70.3) scale(0.88 1)" fill="#000" text-anchor="start" font-size="12">Windböen</text>
<text transform="translate(188.60000000000002 545) scale(0.9 1)" fill="#000" text-anchor="middle" font-size="12">00:00</text>
<text transform="translate(224.45000000000002 545) scale(0.9 1)" fill="#000" text-anchor="middle" font-size="12">01:00</text>
<text transform="translate(260.3 545) scale(0.9 1)" fill="#000" text-anchor="middle" font-size="12">02:00</text>
<text transform="translate(296.15000000000003 545) scale(0.9 1)" fill="#000" text-anchor="middle" font-size="12">03:00</text>
<text transform="translate(332.00000000000006 545) scale(0.9 1)" fill="#000" text-anchor="middle" font-size="12">04:00</text>
<text transform="translate(367.85 545) scale(0.9 1)" fill="#000" text-anchor="middle" font-size="12">05:00</text>
<text transform="translate(403.70000000000005 545) scale(0.9 1)" fill="#000" text-anchor="middle" font-size="12">06:00</text>
<text transform="translate(439.55 545) scale(0.9 1)" fill="#000" text-anchor="middle" font-size="12">07:00</text>
<text transform="translate(475.40000000000003 545) scale(0.9 1)" fill="#000" text-anchor="middle" font-size="12">08:00</text>
<text transform="translate(511.25000000000006 545) scale(0.9 1)" fill="#000" text-anchor="middle" font-size="12">09:00</text>
<text transform="translate(547.0999999999999 545) scale(0.9 1)" fill="#000" text-anchor="middle" font-size="12">10:00</text>
<text transform="translate(582.95 545) scale(0.9 1)" fill="#000" text-anchor="middle" font-size="12">11:00</text>
<text transform="translate(618.8 545) scale(0.9 1)" fill="#000" text-anchor="middle" font-size="12">12:00</text>
<text transform="translate(654.65 545) scale(0.9 1)" fill="#000" text-anchor="middle" font-size="12">13:00</text>
<text transform="translate(690.5 545) scale(0.9 1)" fill="#000" text-anchor="middle" font-size="12">14:00</text>
<text transform="translate(726.3499999999999 545) scale(0.9 1)" fill="#000" text-anchor="middle" font-size="12">15:00</text>
<text transform="translate(762.2 545) scale(0.9 1)" fill="#000" text-anchor="middle" font-size="12">16:00</text>
<text transform="translate(798.05 545) scale(0.9 1)" fill="#000" text-anchor="middle" font-size="12">17:00</text>
<text transform="translate(833.9000000000001 545) scale(0.9 1)" fill="#000" text-anchor="middle" font-size="12">18:00</text>
<text transform="translate(869.75 545) scale(0.9 1)" fill="#000" text-anchor="middle" font-size="12">19:00</text>
<text transform="translate(905.5999999999999 545) scale(0.9 1)" fill="#000" text-anchor="middle" font-size="12">20:00</text>
<text transform="translate(941.45 545) scale(0.9 1)" fill="#000" text-anchor="middle" font-size="12">21:00</text>
<text transform="translate(977.3 545) scale(0.9 1)" fill="#000" text-anchor="middle" font-size="12">22:00</text>
<text transform="translate(1013.1500000000001 545) scale(0.9 1)" fill="#000" text-anchor="middle" font-size="12">23:00</text>
<text transform="translate(1049.0 545) scale(0.9 1)" fill="#000" text-anchor="middle" font-size="12">24:00</text>
<text transform="translate(34.5 81.0) scale(0.9 1)" fill="#f00" text-anchor="end" font-size="12">30.0</text>
<text transform="translate(34.5 137.0) scale(0.9 1)" fill="#f00" text-anchor="end" font-size="12">25.0</text>
<text transform="translate(34.5 193.0) scale(0.9 1)" fill="#f00" text-anchor="end" font-size="12">20.0</text>
<text transform="translate(34.5 250.0) scale(0.9 1)" fill="#f00" text-anchor="end" font-size="12">15.0</text>
<text transform="translate(34.5 306.0) scale(0.9 1)" fill="#f00" text-anchor="end" font-size="12">10.0</text>
<text transform="translate(34.5 362.0) scale(0.9 1)" fill="#f00" text-anchor="end" font-size="12">5.0</text>
<text transform="translate(34.5 419.0) scale(0.9 1)" fill="#f00" text-anchor="end" font-size="12">0.0</text>
<text transform="translate(34.5 475.0) scale(0.9 1)" fill="#f00" text-anchor="end" font-size="12">-5.0</text>
<text transform="translate(34.5 531.0) scale(0.9 1)" fill="#f00" text-anchor="end" font-size="12">-10.0</text>
<text transform="translate(71 81.0) scale(0.9 1)" fill="#00f" text-anchor="end" font-size="12">200</text>
<text transform="translate(71 103.0) scale(0.9 1)" fill="#00f" text-anchor="end" font-size="12">190</text>
<text transform="translate(71 126.0) scale(0.9 1)" fill="#00f" text-anchor="end" font-size="12">180</text>
<text transform="translate(71 149.0) scale(0.9 1)" fill="#00f" text-anchor="end" font-size="12">170</text>
<text transform="translate(71 171.0) scale(0.9 1)" fill="#00f" text-anchor="end" font-size="12">160</text>
<text transform="translate(71 193.0) scale(0.9 1)" fill="#00f" text-anchor="end" font-size="12">150</text>
<text transform="translate(71 216.0) scale(0.9 1)" fill="#00f" text-anchor="end" font-size="12">140</text>
<text transform="translate(71 239.0) scale(0.9 1)" fill="#00f" text-anchor="end" font-size="12">130</text>
<text transform="translate(71 261.0) scale(0.9 1)" fill="#00f" text-anchor="end" font-size="12">120</text>
<text transform="translate(71 283.0) scale(0.9 1)" fill="#00f" text-anchor="end" font-size="12">110</text>
<text transform="translate(71 306.0) scale(0.9 1)" fill="#00f" text-anchor="end" font-size="12">100</text>
<text transform="translate(71 329.0) scale(0.9 1)" fill="#00f" text-anchor="end" font-size="12">90</text>
<text transform="translate(71 351.0) scale(0.9 1)" fill="#00f" text-anchor="end" font-size="12">80</text>
<text transform="translate(71 373.0) scale(0.9 1)" fill="#00f" text-anchor="end" font-size="12">70</text>
<text transform="translate(71 396.0) scale(0.9 1)" fill="#00f" text-anchor="end" font-size="12">60</text>
<text transform="translate(71 419.0) scale(0.9 1)" fill="#00f" text-anchor="end" font-size="12">50</text>
<text transform="translate(71 441.0) scale(0.9 1)" fill="#00f" text-anchor="end" font-size="12">40</text>
<text transform="translate(71 463.0) scale(0.9 1)" fill="#00f" text-anchor="end" font-size="12">30</text>
<text transform="translate(71 486.0) scale(0.9 1)" fill="#00f" text-anchor="end" font-size="12">20</text>
<text transform="translate(71 509.0) scale(0.9 1)" fill="#00f" text-anchor="end" font-size="12">10</text>
<text transform="translate(71 531.0) scale(0.9 1)" fill="#00f" text-anchor="end" font-size="12">0</text>
<text transform="translate(108.5 81.0) scale(0.9 1)" fill="#0ff" text-anchor="end" font-size="12">5.0</text>
<text transform="translate(108.5 171.0) scale(0.9 1)" fill="#0ff" text-anchor="end" font-size="12">4.0</text>
<text transform="translate(108.5 261.0) scale(0.9 1)" fill="#0ff" text-anchor="end" font-size="12">3.0</text>
<text transform="translate(108.5 351.0) scale(0.9 1)" fill="#0ff" text-anchor="end" font-size="12">2.0</text>
<text transform="translate(108.5 441.0) scale(0.9 1)" fill="#0ff" text-anchor="end" font-size="12">1.0</text>
<text transform="translate(108.5 531.0) scale(0.9 1)" fill="#0ff" text-anchor="end" font-size="12">0.0</text>
<text transform="translate(145 81.0) scale(0.9 1)" fill="#808080" text-anchor="end" font-size="12">360 N</text>
<text transform="translate(145 119.0) scale(0.9 1)" fill="#808080" text-anchor="end" font-size="12">330</text>
<text transform="translate(145 156.0) scale(0.9 1)" fill="#808080" text-anchor="end" font-size="12">300</text>
<text transform="translate(145 193.0) scale(0.9 1)" fill="#808080" text-anchor="end" font-size="12">270 W</text>
<text transform="translate(145 231.0) scale(0.9 1)" fill="#808080" text-anchor="end" font-size="12">240</text>
<text transform="translate(145 269.0) scale(0.9 1)" fill="#808080" text-anchor="end" font-size="12">210</text>
<text transform="translate(145 306.0) scale(0.9 1)" fill="#808080" text-anchor="end" font-size="12">180 S</text>
<text transform="translate(145 343.0) scale(0.9 1)" fill="#808080" text-anchor="end" font-size="12">150</text>
<text transform="translate(145 381.0) scale(0.9 1)" fill="#808080" text-anchor="end" font-size="12">120</text>
<text transform="translate(145 419.0) scale(0.9 1)" fill="#808080" text-anchor="end" font-size="12">90&#160;&#160;O</text>
<text transform="translate(145 456.0) scale(0.9 1)" fill="#808080" text-anchor="end" font-size="12">60</text>
<text transform="translate(145 493.0) scale(0.9 1)" fill="#808080" text-anchor="end" font-size="12">30</text>
<text transform="translate(145 531.0) scale(0.9 1)" fill="#808080" text-anchor="end" font-size="12">0&#160;&#160;&#160;&#160;N</text>
<text transform="translate(182.5 81.0) scale(0.9 1)" fill="#f0f" text-anchor="end" font-size="12">10.0</text>
<text transform="translate(182.5 126.0) scale(0.9 1)" fill="#f0f" text-anchor="end" font-size="12">9.0</text>
<text transform="translate(182.5 171.0) scale(0.9 1)" fill="#f0f" text-anchor="end" font-size="12">8.0</text>
<text transform="translate(182.5 216.0) scale(0.9 1)" fill="#f0f" text-anchor="end" font-size="12">7.0</text>
<text transform="translate(182.5 261.0) scale(0.9 1)" fill="#f0f" text-anchor="end" font-size="12">6.0</text>
<text transform="translate(182.5 306.0) scale(0.9 1)" fill="#f0f" text-anchor="end" font-size="12">5.0</text>
<text transform="translate(182.5 351.0) scale(0.9 1)" fill="#f0f" text-anchor="end" font-size="12">4.0</text>
<text transform="translate(182.5 396.0) scale(0.9 1)" fill="#f0f" text-anchor="end" font-size="12">3.0</text>
<text transform="translate(182.5 441.0) scale(0.9 1)" fill="#f0f" text-anchor="end" font-size="12">2.0</text>
<text transform="translate(182.5 486.0) scale(0.9 1)" fill="#f0f" text-anchor="end" font-size="12">1.0</text>
<text transform="translate(182.5 531.0) scale(0.9 1)" fill="#f0f" text-anchor="end" font-size="12">0.0</text>
<text transform="translate(25.3 64.8) scale(0.9 1)" fill="#f00" text-anchor="middle" font-size="12">°C</text>
<text transform="translate(61.5 64.8) scale(0.9 1)" fill="#00f" text-anchor="middle" font-size="12">cb</text>
<text transform="translate(95.5 64.8) scale(0.9 1)" fill="#0ff" text-anchor="middle" font-size="12">l/m²</text>
<text transform="translate(139.5 64.8) scale(0.9 1)" fill="#808080" text-anchor="middle" font-size="12">°</text>
<text transform="translate(167.5 64.8) scale(0.9 1)" fill="#f0f" text-anchor="middle" font-size="12">UV-I</text>
<text transform="translate(1054.5 81.0) scale(0.9 1)" fill="#00f" text-anchor="start" font-size="12">100</text>
<text transform="translate(1054.5 126.0) scale(0.9 1)" fill="#00f" text-anchor="start" font-size="12">90</text>
<text transform="translate(1054.5 171.0) scale(0.9 1)" fill="#00f" text-anchor="start" font-size="12">80</text>
<text transform="translate(1054.5 216.0) scale(0.9 1)" fill="#00f" text-anchor="start" font-size="12">70</text>
<text transform="translate(1054.5 261.0) scale(0.9 1)" fill="#00f" text-anchor="start" font-size="12">60</text>
<text transform="translate(1054.5 306.0) scale(0.9 1)" fill="#00f" text-anchor="start" font-size="12">50</text>
<text transform="translate(1054.5 351.0) scale(0.9 1)" fill="#00f" text-anchor="start" font-size="12">40</text>
<text transform="translate(1054.5 396.0) scale(0.9 1)" fill="#00f" text-anchor="start" font-size="12">30</text>
<text transform="translate(1054.5 441.0) scale(0.9 1)" fill="#00f" text-anchor="start" font-size="12">20</text>
<text transform="translate(1054.5 486.0) scale(0.9 1)" fill="#00f" text-anchor="start" font-size="12">10</text>
<text transform="translate(1054.5 531.0) scale(0.9 1)" fill="#00f" text-anchor="start" font-size="12">0</text>
<text transform="translate(1091 81.0) scale(0.9 1)" fill="#0f0" text-anchor="start" font-size="12">1030</text>
<text transform="translate(1091 137.0) scale(0.9 1)" fill="#0f0" text-anchor="start" font-size="12">1025</text>
<text transform="translate(1091 193.0) scale(0.9 1)" fill="#0f0" text-anchor="start" font-size="12">1020</text>
<text transform="translate(1091 250.0) scale(0.9 1)" fill="#0f0" text-anchor="start" font-size="12">1015</text>
<text transform="translate(1091 306.0) scale(0.9 1)" fill="#0f0" text-anchor="start" font-size="12">1010</text>
<text transform="translate(1091 362.0) scale(0.9 1)" fill="#0f0" text-anchor="start" font-size="12">1005</text>
<text transform="translate(1091 419.0) scale(0.9 1)" fill="#0f0" text-anchor="start" font-size="12">1000</text>
<text transform="translate(1091 475.0) scale(0.9 1)" fill="#0f0" text-anchor="start" font-size="12">995</text>
<text transform="translate(1091 531.0) scale(0.9 1)" fill="#0f0" text-anchor="start" font-size="12">990</text>
<text transform="translate(1128 81.0) scale(0.9 1)" fill="#000" text-anchor="start" font-size="12">60.0</text>
<text transform="translate(1128 119.0) scale(0.9 1)" fill="#000" text-anchor="start" font-size="12">55.0</text>
<text transform="translate(1128 156.0) scale(0.9 1)" fill="#000" text-anchor="start" font-size="12">50.0</text>
<text transform="translate(1128 193.0) scale(0.9 1)" fill="#000" text-anchor="start" font-size="12">45.0</text>
<text transform="translate(1128 231.0) scale(0.9 1)" fill="#000" text-anchor="start" font-size="12">40.0</text>
<text transform="translate(1128 269.0) scale(0.9 1)" fill="#000" text-anchor="start" font-size="12">35.0</text>
<text transform="translate(1128 306.0) scale(0.9 1)" fill="#000" text-anchor="start" font-size="12">30.0</text>
<text transform="translate(1128 343.0) scale(0.9 1)" fill="#000" text-anchor="start" font-size="12">25.0</text>
<text transform="translate(1128 381.0) scale(0.9 1)" fill="#000" text-anchor="start" font-size="12">20.0</text>
<text transform="translate(1128 419.0) scale(0.9 1)" fill="#000" text-anchor="start" font-size="12">15.0</text>
<text transform="translate(1128 456.0) scale(0.9 1)" fill="#000" text-anchor="start" font-size="12">10.0</text>
<text transform="translate(1128 493.0) scale(0.9 1)" fill="#000" text-anchor="start" font-size="12">5.0</text>
<text transform="translate(1128 531.0) scale(0.9 1)" fill="#000" text-anchor="start" font-size="12">0.0</text>
<text transform="translate(1165.5 81.0) scale(0.9 1)" fill="#ff0" text-anchor="start" font-size="12">100</text>
<text transform="translate(1165.5 126.0) scale(0.9 1)" fill="#ff0" text-anchor="start" font-size="12">90</text>
<text transform="translate(1165.5 171.0) scale(0.9 1)" fill="#ff0" text-anchor="start" font-size="12">80</text>
<text transform="translate(1165.5 216.0) scale(0.9 1)" fill="#ff0" text-anchor="start" font-size="12">70</text>
<text transform="translate(1165.5 261.0) scale(0.9 1)" fill="#ff0" text-anchor="start" font-size="12">60</text>
<text transform="translate(1165.5 306.0) scale(0.9 1)" fill="#ff0" text-anchor="start" font-size="12">50</text>
<text transform="translate(1165.5 351.0) scale(0.9 1)" fill="#ff0" text-anchor="start" font-size="12">40</text>
<text transform="translate(1165.5 396.0) scale(0.9 1)" fill="#ff0" text-anchor="start" font-size="12">30</text>
<text transform="translate(1165.5 441.0) scale(0.9 1)" fill="#ff0" text-anchor="start" font-size="12">20</text>
<text transform="translate(1165.5 486.0) scale(0.9 1)" fill="#ff0" text-anchor="start" font-size="12">10</text>
<text transform="translate(1165.5 531.0) scale(0.9 1)" fill="#ff0" text-anchor="start" font-size="12">0</text>
<text transform="translate(1202.5 81.0) scale(0.9 1)" fill="#ff8080" text-anchor="start" font-size="12">1200</text>
<text transform="translate(1202.5 100.0) scale(0.9 1)" fill="#ff8080" text-anchor="start" font-size="12">1150</text>
<text transform="translate(1202.5 119.0) scale(0.9 1)" fill="#ff8080" text-anchor="start" font-size="12">1100</text>
<text transform="translate(1202.5 137.0) scale(0.9 1)" fill="#ff8080" text-anchor="start" font-size="12">1050</text>
<text transform="translate(1202.5 156.0) scale(0.9 1)" fill="#ff8080" text-anchor="start" font-size="12">1000</text>
<text transform="translate(1202.5 175.0) scale(0.9 1)" fill="#ff8080" text-anchor="start" font-size="12">950</text>
<text transform="translate(1202.5 193.0) scale(0.9 1)" fill="#ff8080" text-anchor="start" font-size="12">900</text>
<text transform="translate(1202.5 212.0) scale(0.9 1)" fill="#ff8080" text-anchor="start" font-size="12">850</text>
<text transform="translate(1202.5 231.0) scale(0.9 1)" fill="#ff8080" text-anchor="start" font-size="12">800</text>
<text transform="translate(1202.5 250.0) scale(0.9 1)" fill="#ff8080" text-anchor="start" font-size="12">750</text>
<text transform="translate(1202.5 269.0) scale(0.9 1)" fill="#ff8080" text-anchor="start" font-size="12">700</text>
<text transform="translate(1202.5 287.0) scale(0.9 1)" fill="#ff8080" text-anchor="start" font-size="12">650</text>
<text transform="translate(1202.5 306.0) scale(0.9 1)" fill="#ff8080" text-anchor="start" font-size="12">600</text>
<text transform="translate(1202.5 325.0) scale(0.9 1)" fill="#ff8080" text-anchor="start" font-size="12">550</text>
<text transform="translate(1202.5 343.0) scale(0.9 1)" fill="#ff8080" text-anchor="start" font-size="12">500</text>
<text transform="translate(1202.5 362.0) scale(0.9 1)" fill="#ff8080" text-anchor="start" font-size="12">450</text>
<text transform="translate(1202.5 381.0) scale(0.9 1)" fill="#ff8080" text-anchor="start" font-size="12">400</text>
<text transform="translate(1202.5 400.0) scale(0.9 1)" fill="#ff8080" text-anchor="start" font-size="12">350</text>
<text transform="translate(1202.5 419.0) scale(0.9 1)" fill="#ff8080" text-anchor="start" font-size="12">300</text>
<text transform="translate(1202.5 437.0) scale(0.9 1)" fill="#ff8080" text-anchor="start" font-size="12">250</text>
<text transform="translate(1202.5 456.0) scale(0.9 1)" fill="#ff8080" text-anchor="start" font-size="12">200</text>
<text transform="translate(1202.5 475.0) scale(0.9 1)" fill="#ff8080" text-anchor="start" font-size="12">150</text>
<text transform="translate(1202.5 493.0) scale(0.9 1)" fill="#ff8080" text-anchor="start" font-size="12">100</text>
<text transform="translate(1202.5 512.0) scale(0.9 1)" fill="#ff8080" text-anchor="start" font-size="12">50</text>
<text transform="translate(1202.5 531.0) scale(0.9 1)" fill="#ff8080" text-anchor="start" font-size="12">0</text>
<text transform="translate(1048.5 64.8) scale(0.9 1)" fill="#00f" text-anchor="start" font-size="12">%</text>
<text transform="translate(1085.5 64.8) scale(0.9 1)" fill="#0f0" text-anchor="start" font-size="12">hPa</text>
<text transform="translate(1122.5 64.8) scale(0.9 1)" fill="#000" text-anchor="start" font-size="12">km/h</text>
<text transform="translate(1159.5 64.8) scale(0.9 1)" fill="#ff0" text-anchor="start" font-size="12">min</text>
<text transform="translate(1196.5 64.8) scale(0.9 1)" fill="#ff8080" text-anchor="start" font-size="12">W/m²</text>
<text transform="translate(413.3 556) scale(0.9 1)" fill="#000" text-anchor="end" font-size="12">06:28</text>
<text transform="translate(824.5 556) scale(0.9 1)" fill="#000" text-anchor="end" font-size="12">17:57</text>
<text transform="translate(8 578) scale(0.97 1)" fill="#000" text-anchor="start" font-size="12" font-weight="bold">Sensor</text>
<text transform="translate(8 594) scale(0.97 1)" fill="#000" text-anchor="start" font-size="12" font-weight="bold">MinWert</text>
<text transform="translate(8 610) scale(0.97 1)" fill="#000" text-anchor="start" font-size="12" font-weight="bold">MaxWert</text>
<text transform="translate(8 625.5) scale(0.97 1)" fill="#000" text-anchor="start" font-size="12" font-weight="bold">Durchschnitt</text>
<text x="8" y="641.5" fill="#000" text-anchor="start" font-size="13" font-weight="bold">10.03. 23:55</text>
<text transform="translate(99.2 578) scale(0.97 1)" fill="#000" text-anchor="start" font-size="12" font-weight="bold">Temp. 2m</text>
<text transform="translate(199.03 578) scale(0.97 1)" fill="#000" text-anchor="end" font-size="12" font-weight="bold">°C</text>
<text transform="translate(100.2 594) scale(0.9 1)" fill="#000" text-anchor="start" font-size="12">07:20</text>
<text transform="translate(199.03 594) scale(0.9 1)" fill="#000" text-anchor="end" font-size="12">3.3</text>
<text transform="translate(100.2 610) scale(0.9 1)" fill="#000" text-anchor="start" font-size="12">14:25</text>
<text transform="translate(199.03 610) scale(0.9 1)" fill="#000" text-anchor="end" font-size="12">16.3</text>
<text transform="translate(199.03 625.5) scale(0.9 1)" fill="#000" text-anchor="end" font-size="12">9.23</text>
<text x="199.03" y="641.5" fill="#000" text-anchor="end" font-size="13" font-weight="bold">6.9</text>
<text transform="translate(213.5 578) scale(0.97 1)" fill="#000" text-anchor="start" font-size="12" font-weight="bold">Feuchte 2m</text>
<text transform="translate(316.86 578) scale(0.97 1)" fill="#000" text-anchor="end" font-size="12" font-weight="bold">%</text>
<text transform="translate(219.5 594) scale(0.9 1)" fill="#000" text-anchor="start" font-size="12">15:30</text>
<text transform="translate(316.86 594) scale(0.9 1)" fill="#000" text-anchor="end" font-size="12">37</text>
<text transform="translate(219.5 610) scale(0.9 1)" fill="#000" text-anchor="start" font-size="12">23:35</text>
<text transform="translate(316.86 610) scale(0.9 1)" fill="#000" text-anchor="end" font-size="12">69</text>
<text transform="translate(316.86 625.5) scale(0.9 1)" fill="#000" text-anchor="end" font-size="12">56</text>
<text transform="translate(220.0 641.5) scale(0.9 1)" fill="#000" text-anchor="start" font-size="12">5.08 g/m³</text>
<text x="316.86" y="641.5" fill="#000" text-anchor="end" font-size="13" font-weight="bold">66</text>
<text transform="translate(330.9 578) scale(0.97 1)" fill="#000" text-anchor="start" font-size="12" font-weight="bold">Luftdruck</text>
<text transform="translate(434.69 578) scale(0.97 1)" fill="#000" text-anchor="end" font-size="12" font-weight="bold">hPa</text>
<text transform="translate(337.9 594) scale(0.9 1)" fill="#000" text-anchor="start" font-size="12">17:30</text>
<text transform="translate(434.69 594) scale(0.9 1)" fill="#000" text-anchor="end" font-size="12">1015.5</text>
<text transform="translate(337.9 610) scale(0.9 1)" fill="#000" text-anchor="start" font-size="12">00:00</text>
<text transform="translate(434.69 610) scale(0.9 1)" fill="#000" text-anchor="end" font-size="12">1018.0</text>
<text transform="translate(331.9 625.5) scale(0.9 1)" fill="#000" text-anchor="start" font-size="12">^0.5hPa/h</text>
<text transform="translate(434.69 625.5) scale(0.9 1)" fill="#000" text-anchor="end" font-size="12">1016.4</text>
<text transform="translate(331.9 641.5) scale(0.9 1)" fill="#000" text-anchor="start" font-size="12">veränderlich</text>
<text x="434.69" y="641.5" fill="#000" text-anchor="end" font-size="13" font-weight="bold">1016.0</text>
<text transform="translate(449.2 578) scale(0.97 1)" fill="#000" text-anchor="start" font-size="12" font-weight="bold">Wind</text>
<text transform="translate(552.52 578) scale(0.97 1)" fill="#000" text-anchor="end" font-size="12" font-weight="bold">km/h</text>
<text transform="translate(449.2 594) scale(0.9 1)" fill="#000" text-anchor="start" font-size="12">Ø 10 min.</text>
<text transform="translate(552.52 594) scale(0.9 1)" fill="#000" text-anchor="end" font-size="12">3.2</text>
<text transform="translate(455.2 610) scale(0.9 1)" fill="#000" text-anchor="start" font-size="12">16:50</text>
<text transform="translate(552.52 610) scale(0.9 1)" fill="#000" text-anchor="end" font-size="12">W-NW 11.4</text>
<text transform="translate(455.2 625.5) scale(0.9 1)" fill="#000" text-anchor="start" font-size="12">230.4 km</text>
<text transform="translate(552.52 625.5) scale(0.9 1)" fill="#000" text-anchor="end" font-size="12">4.5</text>
<text transform="translate(455.2 641.5) scale(0.9 1)" fill="#000" text-anchor="start" font-size="12">1 Bft W-SW</text>
<text x="552.52" y="641.5" fill="#000" text-anchor="end" font-size="13" font-weight="bold">2.5</text>
<text transform="translate(567.5 578) scale(0.97 1)" fill="#000" text-anchor="start" font-size="12" font-weight="bold">Windböen</text>
<text transform="translate(670.35 578) scale(0.97 1)" fill="#000" text-anchor="end" font-size="12" font-weight="bold">km/h</text>
<text transform="translate(567.5 594) scale(0.9 1)" fill="#000" text-anchor="start" font-size="12">Ø 10 min.</text>
<text transform="translate(670.35 594) scale(0.9 1)" fill="#000" text-anchor="end" font-size="12">6.4</text>
<text transform="translate(574.0 610) scale(0.9 1)" fill="#000" text-anchor="start" font-size="12">16:50</text>
<text transform="translate(670.35 610) scale(0.9 1)" fill="#000" text-anchor="end" font-size="12">W-SW 20.9</text>
<text transform="translate(574.0 625.5) scale(0.9 1)" fill="#000" text-anchor="start" font-size="12">230.4 km</text>
<text transform="translate(670.35 625.5) scale(0.9 1)" fill="#000" text-anchor="end" font-size="12">9.6</text>
<text transform="translate(574.0 641.5) scale(0.9 1)" fill="#000" text-anchor="start" font-size="12">1 Bft W-SW</text>
<text x="670.35" y="641.5" fill="#000" text-anchor="end" font-size="13" font-weight="bold">4.8</text>
<text transform="translate(685.4 578) scale(0.97 1)" fill="#000" text-anchor="start" font-size="12" font-weight="bold">Regen</text>
<text transform="translate(788.1800000000001 578) scale(0.97 1)" fill="#000" text-anchor="end" font-size="12" font-weight="bold">l/m²</text>
<text transform="translate(691.4 610) scale(0.9 1)" fill="#000" text-anchor="start" font-size="12">23:55</text>
<text transform="translate(788.1800000000001 610) scale(0.9 1)" fill="#000" text-anchor="end" font-size="12">0.0</text>
<text transform="translate(685.4 625.5) scale(0.9 1)" fill="#000" text-anchor="start" font-size="12">Gesamt:</text>
<text transform="translate(788.1800000000001 625.5) scale(0.9 1)" fill="#000" text-anchor="end" font-size="12">0.0</text>
<text transform="translate(688.9 641.5) scale(0.9 1)" fill="#000" text-anchor="start" font-size="12">0.0 l/m²</text>
<text x="788.1800000000001" y="641.5" fill="#000" text-anchor="end" font-size="13" font-weight="bold">0.0</text>
<text transform="translate(803.2 578) scale(0.97 1)" fill="#000" text-anchor="start" font-size="12" font-weight="bold">UV</text>
<text transform="translate(906.01 578) scale(0.97 1)" fill="#000" text-anchor="end" font-size="12" font-weight="bold">UV-I</text>
<text transform="translate(808.7 594) scale(0.9 1)" fill="#000" text-anchor="start" font-size="12">23:55</text>
<text transform="translate(906.01 594) scale(0.9 1)" fill="#000" text-anchor="end" font-size="12">0.0</text>
<text transform="translate(808.7 610) scale(0.9 1)" fill="#000" text-anchor="start" font-size="12">12:35</text>
<text transform="translate(906.01 610) scale(0.9 1)" fill="#000" text-anchor="end" font-size="12">1.8</text>
<text transform="translate(906.01 625.5) scale(0.9 1)" fill="#000" text-anchor="end" font-size="12">1.2</text>
<text x="906.01" y="641.5" fill="#000" text-anchor="end" font-size="13" font-weight="bold">0.0</text>
<text transform="translate(920.3 578) scale(0.97 1)" fill="#000" text-anchor="start" font-size="12" font-weight="bold">Solar</text>
<text transform="translate(1021.7 578) scale(0.97 1)" fill="#000" text-anchor="end" font-size="12" font-weight="bold">W/m²</text>
<text transform="translate(920.3 594) scale(0.9 1)" fill="#000" text-anchor="start" font-size="12">Elevation</text>
<text transform="translate(1021.7 594) scale(0.9 1)" fill="#000" text-anchor="end" font-size="12">-41.351</text>
<text transform="translate(926.5 610) scale(0.9 1)" fill="#000" text-anchor="start" font-size="12">12:15</text>
<text transform="translate(1021.7 610) scale(0.9 1)" fill="#000" text-anchor="end" font-size="12">519</text>
<text transform="translate(920.3 625.5) scale(0.9 1)" fill="#000" text-anchor="start" font-size="12">Tag:6:35 h</text>
<text transform="translate(1021.7 625.5) scale(0.9 1)" fill="#000" text-anchor="end" font-size="12">240</text>
<text transform="translate(920.3 641.5) scale(0.9 1)" fill="#000" text-anchor="start" font-size="12">dunkel</text>
<text x="1021.7" y="641.5" fill="#000" text-anchor="end" font-size="13" font-weight="bold">0</text></g>
</svg>
</body></html>
